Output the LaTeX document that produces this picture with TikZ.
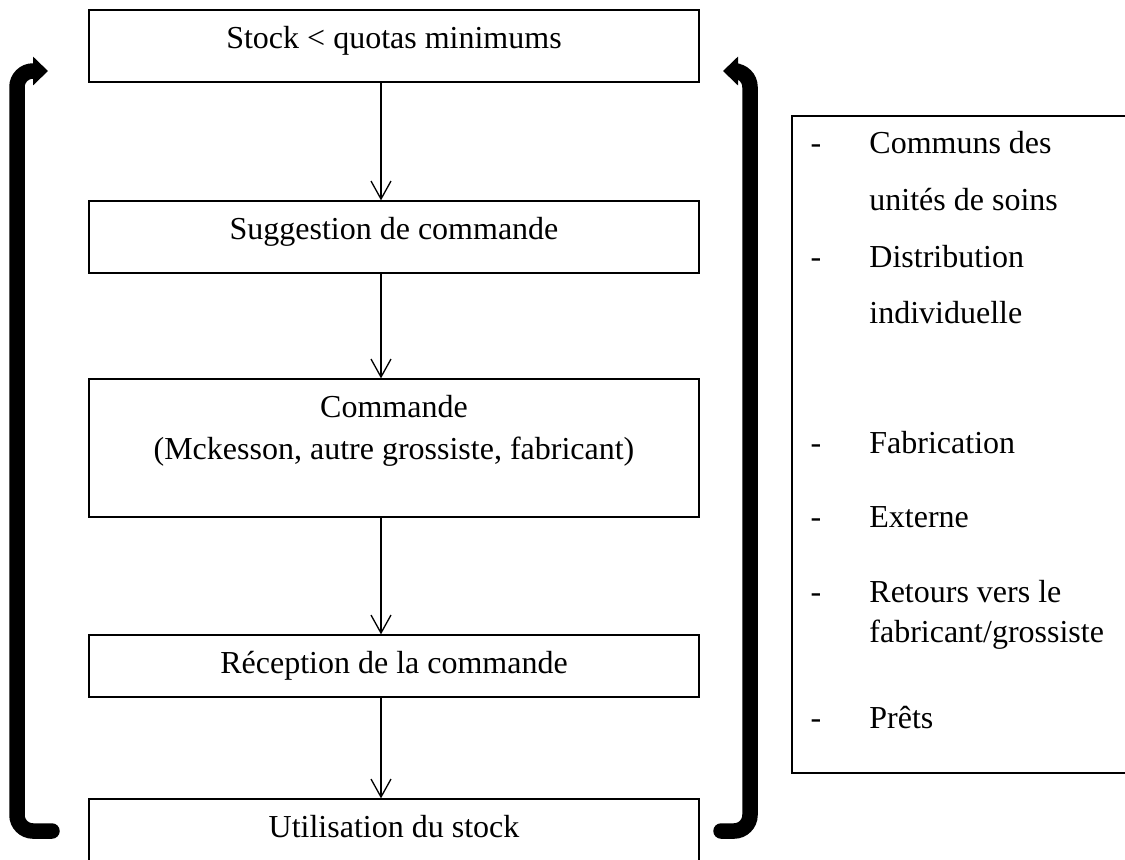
\documentclass[tikz,border=0pt]{standalone}
\usepackage{fontspec}
\setmainfont{Liberation Serif}
\usepackage{tikz}
\usetikzlibrary{arrows.meta}
\tikzstyle{stepbox}=[rectangle, draw, line width=0.65pt, minimum width=305pt, inner sep=0pt]
\tikzstyle{steptext}=[anchor=base, inner sep=0pt, font=\fontsize{16pt}{21pt}\selectfont]
\tikzstyle{flowarrow}=[draw, line width=0.65pt, -{Straight Barb[length=9pt,width=10pt]}]
\tikzstyle{backloop}=[draw, line width=7.75pt, line cap=round, rounded corners=8pt, -{Triangle[length=7.5pt,width=14pt]}]
\tikzstyle{srcbox}=[rectangle, draw, line width=0.65pt, minimum width=174pt, minimum height=328.5pt]
\tikzstyle{srcdash}=[anchor=base, inner sep=0pt, font=\fontsize{16pt}{21pt}\selectfont]
\tikzstyle{srctext}=[anchor=base west, inner sep=0pt, font=\fontsize{16pt}{21pt}\selectfont]
\newcommand{\flowstep}[4]{
	\node[stepbox, minimum height=#3] (#1) at (#2) {};
	\node[steptext] (#1t) at ([yshift=-19.75pt]#1.north) {#4};}

\begin{document}
\begin{tikzpicture}[x=0.5pt, y=-0.5pt]
	\useasboundingbox (0,0) rectangle (1125,859);
	\clip (0,0) rectangle (1125,859);

	\flowstep{stock}{394,46}{36pt}{Stock < quotas minimums}
	\flowstep{sugg}{394,237}{36pt}{Suggestion de commande}
	\flowstep{cmd}{394,448}{69pt}{Commande}
	\node[steptext] (cmdb) at ([yshift=-21pt]cmdt.base) {(Mckesson, autre grossiste, fabricant)};
	\flowstep{recep}{394,666}{31pt}{Réception de la commande}
	\flowstep{util}{394,859}{60pt}{Utilisation du stock}

	\coordinate (ax) at (381,0);
	\path[flowarrow] (stock.south -| ax) -- (sugg.north -| ax);
	\path[flowarrow] (sugg.south -| ax) -- (cmd.north -| ax);
	\path[flowarrow] (cmd.south -| ax) -- (recep.north -| ax);
	\path[flowarrow] (recep.south -| ax) -- (util.north -| ax);

	% retour du stock
	\coordinate (l1) at (52,831);
	\coordinate (l2) at (17,831);
	\coordinate (l3) at (17,71);
	\coordinate (l4) at (48,71);
	\path[backloop] (l1) -- (l2) -- (l3) -- (l4);
	\coordinate (r1) at (721,831);
	\coordinate (r2) at (750,831);
	\coordinate (r3) at (750,71);
	\coordinate (r4) at (723,71);
	\path[backloop] (r1) -- (r2) -- (r3) -- (r4);

	\node[srcbox] (src) at (966,444.5) {};
	\node[srcdash] (d1) at (816,153) {-};
	\node[srctext] (s1) at (869,153) {Communs des};
	\node[srctext] (s1b) at (869,210) {unités de soins};
	\node[srcdash] (d2) at (816,267) {-};
	\node[srctext] (s2) at (869,267) {Distribution};
	\node[srctext] (s2b) at (869,323) {individuelle};
	\node[srcdash] (d3) at (816,453) {-};
	\node[srctext] (s3) at (869,453) {Fabrication};
	\node[srcdash] (d4) at (816,527) {-};
	\node[srctext] (s4) at (869,527) {Externe};
	\node[srcdash] (d5) at (816,602) {-};
	\node[srctext] (s5) at (869,602) {Retours vers le};
	\node[srctext] (s5b) at (869,642) {fabricant/grossiste};
	\node[srcdash] (d6) at (816,728) {-};
	\node[srctext] (s6) at (869,728) {Prêts};
\end{tikzpicture}
\end{document}
